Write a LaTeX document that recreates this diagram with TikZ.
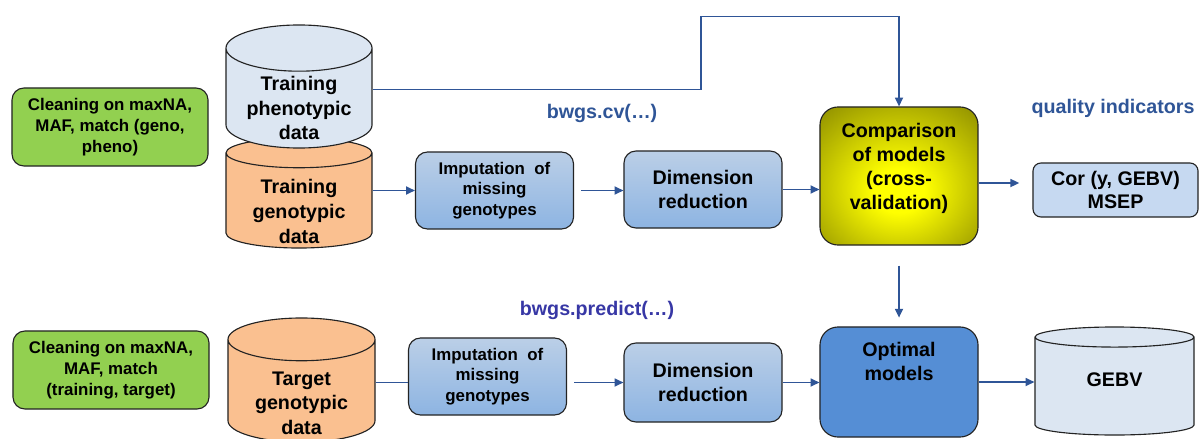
\documentclass[tikz,border=0pt]{standalone}
\usepackage{fontspec}
\setmainfont{Liberation Sans}
\usetikzlibrary{arrows.meta,shapes.geometric,calc}
\definecolor{lineblue}{RGB}{47,85,151}
\definecolor{fnblue}{RGB}{55,55,165}
\definecolor{cleangreen}{RGB}{146,208,80}
\definecolor{phenoblue}{RGB}{220,230,242}
\definecolor{genoorange}{RGB}{250,192,144}
\definecolor{boxtop}{RGB}{187,207,231}
\definecolor{boxbottom}{RGB}{141,180,226}
\definecolor{optblue}{RGB}{85,142,213}
\definecolor{corblue}{RGB}{198,217,241}
\definecolor{compin}{RGB}{255,255,0}
\definecolor{compout}{RGB}{125,125,0}
\definecolor{edge}{RGB}{35,35,35}
\pgfdeclareradialshading{compshade}{\pgfpoint{0bp}{-6bp}}{color(0bp)=(compin); color(8bp)=(compin); color(42bp)=(compout); color(70bp)=(compout)}
\newcommand{\lifted}[2]{\raisebox{#1}[0pt][0pt]{\begin{tabular}{@{}c@{}}#2\end{tabular}}}

\begin{document}
\begin{tikzpicture}[x=0.025cm,y=-0.025cm,
font=\bfseries\fontsize{14}{17}\selectfont,
clean/.style={draw=edge,line width=0.8pt,fill=cleangreen,rounded corners=0.3cm,align=center,
  minimum width=4.9cm,minimum height=1.95cm,font=\bfseries\fontsize{12}{15}\selectfont},
db/.style={draw=edge,line width=0.8pt,cylinder,shape border rotate=90,inner sep=0pt,
  cylinder uses custom fill,cylinder body fill=#1,cylinder end fill=#1,
  font=\bfseries\fontsize{14}{17.5}\selectfont,anchor=shape center},
proc/.style={draw=edge,line width=0.8pt,rounded corners=0.3cm,top color=boxtop,bottom color=boxbottom,
  align=center,minimum width=3.95cm,minimum height=1.925cm},
arr/.style={draw=lineblue,line width=1.2pt,-{Triangle[length=2.2mm,width=2mm]}},
fn/.style={text=lineblue}]
\useasboundingbox (0,0) rectangle (1200,439);

\node[clean] (cleanA) at (110,127) {Cleaning on maxNA,\\MAF, match (geno,\\pheno)};
\node[db=genoorange,aspect=0.32,minimum width=3.65cm,minimum height=2.75cm] (geno) at (299,193) {\lifted{-0.45cm}{Training\\genotypic\\data}};
\node[db=phenoblue,aspect=0.44,minimum width=3.65cm,minimum height=3.075cm] (pheno) at (299,86.5) {\lifted{-0.425cm}{Training\\phenotypic\\data}};
\node[proc,font=\bfseries\fontsize{12}{14.5}\selectfont] (impA) at (494.5,190.5) {Imputation~ of\\missing\\genotypes};
\node[proc] (dimA) at (703,189.5) {Dimension\\reduction};
\node[draw=edge,line width=0.8pt,rounded corners=0.45cm,shading=compshade,minimum width=3.95cm,minimum height=3.45cm] (comp) at (899,176)
  {\lifted{0.05cm}{Comparison\\of models\\(cross-\\validation)}};
\node[draw=edge,line width=0.8pt,rounded corners=0.2cm,fill=corblue,minimum width=4.125cm,minimum height=1.35cm,align=center,font=\bfseries\fontsize{14}{16}\selectfont] (cor) at (1115.5,190) {Cor (y, GEBV)\\MSEP};
\node[fn] (cvlab) at (602,113) {bwgs.cv(…)};
\node[fn] (qual) at (1113,108) {quality indicators};

\node[clean] (cleanB) at (111,370) {Cleaning on maxNA,\\MAF, match\\(training, target)};
\node[db=genoorange,aspect=0.46,minimum width=3.675cm,minimum height=3.1cm] (target) at (301.5,380) {\lifted{-0.47cm}{Target\\genotypic\\data}};
\node[proc,font=\bfseries\fontsize{12}{14.5}\selectfont] (impB) at (487.5,376.5) {Imputation~ of\\missing\\genotypes};
\node[proc,minimum height=1.975cm] (dimB) at (703,382.5) {Dimension\\reduction};
\node[draw=edge,line width=0.8pt,rounded corners=0.45cm,fill=optblue,minimum width=3.95cm,minimum height=2.75cm] (optim) at (899,382)
  {\lifted{0.32cm}{Optimal\\models}};
\node[db=phenoblue,aspect=0.36,minimum width=3.975cm,minimum height=2.7cm] (gebv) at (1114.5,381) {\lifted{0cm}{GEBV}};
\node[text=fnblue] (predlab) at (597,310) {bwgs.predict(…)};

\draw[arr] ([yshift=-0.075cm]pheno.east |- pheno.shape center) -- ++(8.2cm,0) -- ++(0,1.825cm) -| (comp.north);
\draw[arr] (geno.east |- impA.west) -- (impA.west);
\draw[arr,shorten <=0.175cm] (impA.east) -- (impA.east -| dimA.west);
\draw[arr] (dimA.east) -- (dimA.east -| comp.west);
\draw[arr,shorten >=0.33cm] ([yshift=-0.175cm]comp.east) -- ([yshift=-0.175cm]comp.east -| cor.west);
\draw[arr,shorten <=0.5cm,shorten >=0.22cm] (comp.south) -- (optim.north);

\draw[lineblue,line width=1.2pt] (target.east |- dimB.west) -- (target.east |- dimB.west -| impB.west);
\draw[arr,shorten <=0.175cm] (impB.east |- dimB.west) -- (dimB.west);
\draw[arr] (dimB.east) -- (dimB.east -| optim.west);
\draw[arr] (optim.east) -- (optim.east -| gebv.west);
\end{tikzpicture}
\end{document}
